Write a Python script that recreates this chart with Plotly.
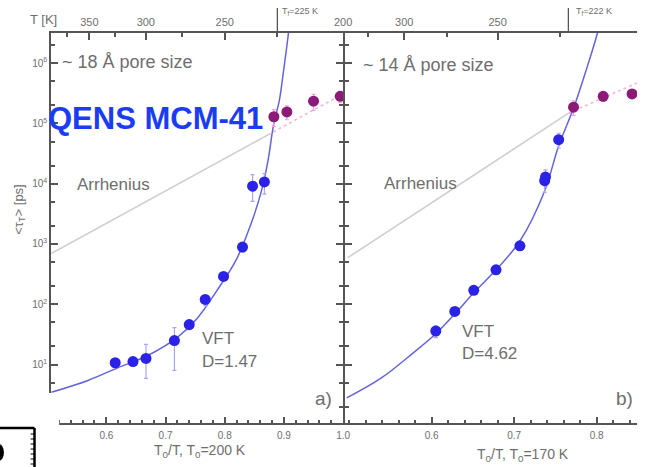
import plotly.graph_objects as go

W, H = 646, 467

# ---------------- data ----------------
# panel a) ~18 A pore size, T0 = 200 K
a_blue_x = [0.615, 0.645, 0.667, 0.715, 0.740, 0.767, 0.798, 0.830, 0.847, 0.867]
a_blue_y = [10.7, 11.2, 12.6, 25, 46, 120, 290, 890, 9100, 10700]
a_blue_ep = [1.5, 1.5, 9, 16, 8, 20, 40, 150, 5000, 4000]
a_blue_em = [1.5, 1.5, 6.7, 17, 8, 25, 40, 150, 4000, 4000]
a_purp_x = [0.883, 0.905, 0.950, 0.995]
a_purp_y = [129000, 155000, 234000, 282000]
a_purp_e = [40000, 40000, 70000, 60000]
a_vft_x = [0.507, 0.570, 0.620, 0.670, 0.720, 0.753, 0.787, 0.820, 0.845, 0.862,
           0.873, 0.883, 0.892, 0.900, 0.907, 0.913]
a_vft_y = [3.47, 5.5, 8.9, 14.1, 28.2, 57.5, 170, 562, 2240, 7590,
           24000, 102000, 234000, 832000, 2820000, 10000000]
a_arr_gray_x = [0.507, 0.873]
a_arr_gray_y = [692, 64600]
a_arr_pink_x = [0.873, 1.0]
a_arr_pink_y = [64600, 309000]

# panel b) ~14 A pore size, T0 = 170 K
b_blue_x = [0.605, 0.628, 0.651, 0.678, 0.707, 0.737, 0.738, 0.754]
b_blue_y = [36, 76, 170, 372, 933, 11200, 12900, 53700]
b_blue_e = [8, 10, 20, 40, 100, 4000, 4000, 15000]
b_purp_x = [0.772, 0.808, 0.843]
b_purp_y = [186000, 282000, 309000]
b_purp_e = [50000, 50000, 50000]
b_vft_x = [0.497, 0.539, 0.578, 0.605, 0.628, 0.651, 0.678, 0.707, 0.737, 0.754,
           0.772, 0.787, 0.800, 0.806]
b_vft_y = [2.8, 6.0, 15.8, 32.4, 69, 155, 372, 1120, 7590, 42700,
           178000, 741000, 2820000, 6300000]
b_arr_gray_x = [0.498, 0.766]
b_arr_gray_y = [589, 148000]
b_arr_pink_x = [0.766, 0.849]
b_arr_pink_y = [148000, 468000]

T0_a, T0_b = 200, 170
top_T_a = [350, 300, 250, 200]
top_T_a_minor = [375, 325, 275, 225]
top_T_b = [300, 250, 200]
top_T_b_minor = [325, 275, 225]
Tf_a, Tf_b = 225, 222

y_tickvals = [10, 100, 1000, 10000, 100000, 1000000]
y_ticktext = ["10<sup>1</sup>", "10<sup>2</sup>", "10<sup>3</sup>",
              "10<sup>4</sup>", "10<sup>5</sup>", "10<sup>6</sup>"]

# ---------------- styling ----------------
FONT = "Liberation Sans, Arial, sans-serif"
GRAY = "#6e6e6e"
AX = "#555555"
BLUE = "#2b22e8"
PURP = "#8c1a78"
CURVE = "#6464da"


def px(x):
    return x / W


def py(y):
    return 1 - y / H


fig = go.Figure()

def add_panel(xa, ya, xtop, vx, vy, agx, agy, apx, apy, bx, by, bep, bem, ppx, ppy, ppe):
    fig.add_trace(go.Scatter(x=agx, y=agy, mode="lines", xaxis=xa, yaxis=ya,
                             line=dict(color="#cfcfcf", width=1.6), showlegend=False))
    fig.add_trace(go.Scatter(x=apx, y=apy, mode="lines", xaxis=xa, yaxis=ya,
                             line=dict(color="#f2b6dc", width=1.6, dash="dot"), showlegend=False))
    fig.add_trace(go.Scatter(x=vx, y=vy, mode="lines", xaxis=xa, yaxis=ya,
                             line=dict(color=CURVE, width=1.5, shape="spline"), showlegend=False))
    fig.add_trace(go.Scatter(x=bx, y=by, mode="markers", xaxis=xa, yaxis=ya,
                             marker=dict(color=BLUE, size=11),
                             error_y=dict(type="data", array=bep, arrayminus=bem,
                                          color="#a8a8f2", thickness=1.2, width=2),
                             showlegend=False))
    fig.add_trace(go.Scatter(x=ppx, y=ppy, mode="markers", xaxis=xa, yaxis=ya,
                             marker=dict(color=PURP, size=11),
                             error_y=dict(type="data", array=ppe,
                                          color="#e8a8d8", thickness=1.2, width=2),
                             showlegend=False))
    # invisible copy so the top temperature axis is drawn
    fig.add_trace(go.Scatter(x=ppx, y=ppy, mode="markers", xaxis=xtop, yaxis=ya,
                             marker=dict(opacity=0, size=1), hoverinfo="skip",
                             showlegend=False))

add_panel("x", "y", "x3", a_vft_x, a_vft_y, a_arr_gray_x, a_arr_gray_y, a_arr_pink_x, a_arr_pink_y,
          a_blue_x, a_blue_y, a_blue_ep, a_blue_em, a_purp_x, a_purp_y, a_purp_e)
add_panel("x2", "y2", "x4", b_vft_x, b_vft_y, b_arr_gray_x, b_arr_gray_y, b_arr_pink_x, b_arr_pink_y,
          b_blue_x, b_blue_y, b_blue_e, b_blue_e, b_purp_x, b_purp_y, b_purp_e)

ydom = [py(423), py(33)]
yrange = [0.03, 6.5]
tickfont = dict(family=FONT, size=10, color=GRAY)

common_x = dict(showline=True, linecolor=AX, linewidth=2, ticks="inside", ticklen=6,
                tickcolor=AX, tickwidth=1.5, tickfont=tickfont, showgrid=False,
                zeroline=False, tickformat=".1f", ticklabelstandoff=2)
xr_a = [0.507, 1.0]
xr_b = [0.495, 0.849]

top_common = dict(showline=True, linecolor=AX, linewidth=2, ticks="inside", ticklen=7,
                  tickcolor=AX, tickwidth=1.5, showgrid=False, zeroline=False,
                  tickmode="array", tickfont=dict(family=FONT, size=11, color=GRAY),
                  ticklabelstandoff=1)

fig.update_layout(
    width=W, height=H, margin=dict(l=0, r=0, t=0, b=0),
    paper_bgcolor="white", plot_bgcolor="white",
    xaxis=dict(domain=[px(52), px(348)], range=xr_a, anchor="y",
               tickmode="array", tickvals=[0.6, 0.7, 0.8, 0.9, 1.0],
               minor=dict(ticks="inside", ticklen=3, tickcolor=AX, tickmode="linear",
                          tick0=0.5, dtick=0.02),
               **common_x),
    xaxis2=dict(domain=[px(350), 1], range=xr_b, anchor="y2",
                tickmode="array", tickvals=[0.6, 0.7, 0.8],
                minor=dict(ticks="inside", ticklen=3, tickcolor=AX, tickmode="linear",
                           tick0=0.5, dtick=0.02),
                **common_x),
    xaxis3=dict(overlaying="x", side="top", anchor="y", range=xr_a,
                tickvals=[T0_a / t for t in top_T_a],
                ticktext=[str(t) for t in top_T_a],
                minor=dict(ticks="inside", ticklen=4, tickcolor=AX,
                           tickvals=[T0_a / t for t in top_T_a_minor]),
                **top_common),
    xaxis4=dict(overlaying="x2", side="top", anchor="y2", range=xr_b,
                tickvals=[T0_b / t for t in top_T_b],
                ticktext=[str(t) for t in top_T_b],
                minor=dict(ticks="inside", ticklen=4, tickcolor=AX,
                           tickvals=[T0_b / t for t in top_T_b_minor]),
                **top_common),
    yaxis=dict(domain=ydom, type="log", range=yrange, anchor="x",
               showline=True, linecolor=AX, linewidth=2, mirror="ticks",
               ticks="inside", ticklen=7, tickcolor=AX, tickwidth=1.5,
               tickmode="array", tickvals=y_tickvals, ticktext=y_ticktext,
               minor=dict(ticks="inside", ticklen=4, tickcolor=AX),
               tickfont=dict(family=FONT, size=10, color=GRAY),
               showgrid=False, zeroline=False),
    yaxis2=dict(domain=ydom, type="log", range=yrange, anchor="x2",
                showline=True, linecolor=AX, linewidth=2,
                ticks="inside", ticklen=7, tickcolor=AX, tickwidth=1.5,
                tickmode="array", tickvals=y_tickvals, showticklabels=False,
                minor=dict(ticks="inside", ticklen=4, tickcolor=AX),
                showgrid=False, zeroline=False),
)

ann = []

def text(x, y, s, size=18, color=GRAY, xanchor="left", yanchor="middle", bold=False, angle=0):
    ann.append(dict(x=px(x), y=py(y), xref="paper", yref="paper", text=s, showarrow=False,
                    xanchor=xanchor, yanchor=yanchor, textangle=angle,
                    font=dict(family=FONT, size=size, color=color,
                              weight="bold" if bold else "normal")))

text(61, 62, "~ 18 Å pore size", 18)
text(366, 65, "~ 14 Å pore size", 18)
text(76, 184, "Arrhenius", 17)
text(387, 183, "Arrhenius", 17)
text(203, 338, "VFT", 17)
text(203, 361, "D=1.47", 17)
text(466, 331, "VFT", 17)
text(466, 353, "D=4.62", 17)
text(339, 398, "a)", 19, xanchor="right")
text(644, 398, "b)", 19, xanchor="right")
text(47, 118, "QENS MCM-41", 31, color="#1a3cf2", bold=True)
text(203, 451, "T<sub>0</sub>/T, T<sub>0</sub>=200 K", 14, xanchor="center")
text(530, 455, "T<sub>0</sub>/T, T<sub>0</sub>=170 K", 14, xanchor="center")
text(19, 210, "&lt;τ<sub>T</sub>&gt; [ps]", 13, xanchor="center", angle=-90)
text(44, 20, "T [K]", 13, xanchor="center")
text(284, 12, "T<sub>f</sub>=225 K", 9)
text(582, 12, "T<sub>f</sub>=222 K", 9)
fig.update_layout(annotations=ann)

shapes = [
    # T_f markers on the top axes
    dict(type="line", xref="x", yref="paper", x0=T0_a / Tf_a, x1=T0_a / Tf_a,
         y0=py(33), y1=py(8), line=dict(color=AX, width=1.3)),
    dict(type="line", xref="x2", yref="paper", x0=T0_b / Tf_b, x1=T0_b / Tf_b,
         y0=py(33), y1=py(8), line=dict(color=AX, width=1.3)),
    # white patch covering the lower-left corner, with part of a neighbouring figure
    dict(type="rect", xref="paper", yref="paper", x0=0, x1=px(60), y0=0, y1=py(393),
         fillcolor="white", line=dict(width=0), layer="above"),
    dict(type="line", xref="paper", yref="paper", x0=0, x1=px(35), y0=py(428), y1=py(428),
         line=dict(color="black", width=2.5), layer="above"),
    dict(type="line", xref="paper", yref="paper", x0=px(35), x1=px(35), y0=py(428), y1=0,
         line=dict(color="black", width=2.5), layer="above"),
    dict(type="circle", xref="paper", yref="paper", x0=px(-7), x1=px(4), y0=py(461), y1=py(444),
         fillcolor="black", line=dict(width=0), layer="above"),
]
for yy in range(434, 467, 5):
    shapes.append(dict(type="line", xref="paper", yref="paper", x0=px(31), x1=px(35),
                       y0=py(yy), y1=py(yy), line=dict(color="black", width=1), layer="above"))
fig.update_layout(shapes=shapes)

fig.write_html("out.html")
